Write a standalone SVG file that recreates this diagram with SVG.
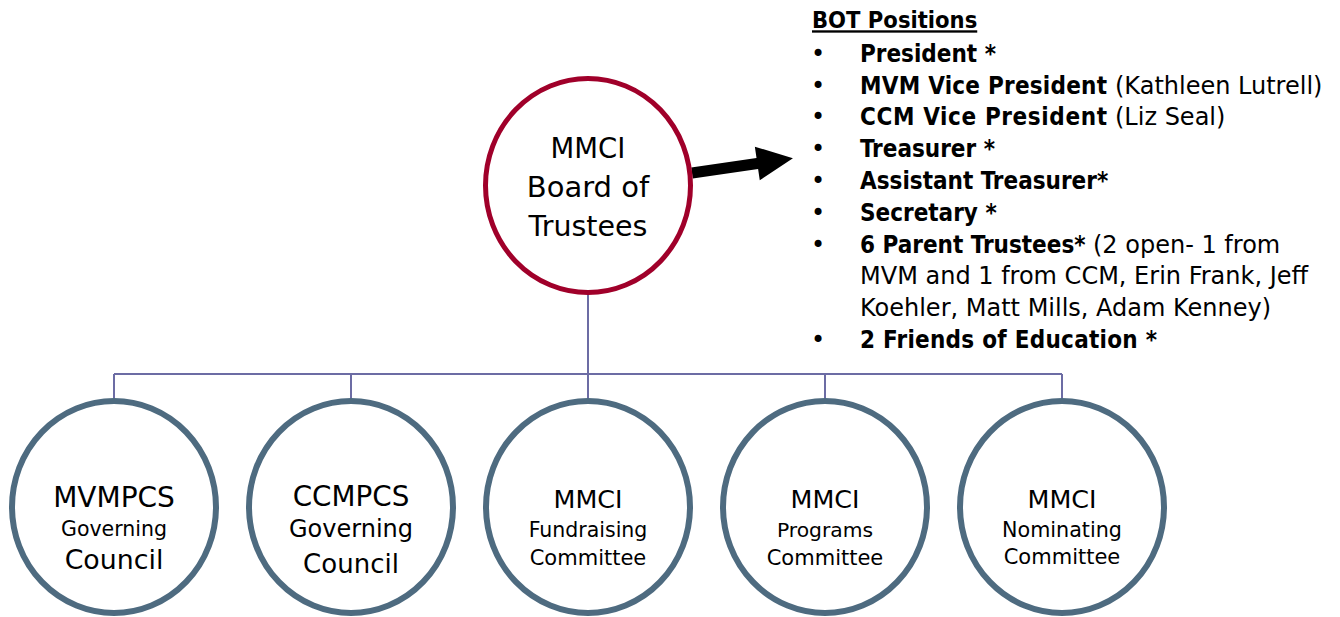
<svg xmlns="http://www.w3.org/2000/svg" width="1340" height="617" viewBox="0 0 1340 617">
<style>
.bg{fill:#ffffff}
.top{fill:#ffffff;stroke:#A0002A;stroke-width:5}
.sub{fill:#ffffff;stroke:#4E6B80;stroke-width:6}
.conn{fill:none;stroke:#6C6CA4;stroke-width:2}
.t{font-family:"DejaVu Sans","Liberation Sans",sans-serif;fill:#000000;text-anchor:middle}
.l{font-family:"DejaVu Sans","Liberation Sans",sans-serif;fill:#000000;font-size:24px}
.b{font-family:"DejaVu Sans Condensed","DejaVu Sans","Liberation Sans",sans-serif;font-weight:bold;font-stretch:condensed;font-size:24px;fill:#000000}
.bu{font-family:"DejaVu Sans",sans-serif;font-size:24px;text-anchor:middle}
</style>
<rect class="bg" x="0" y="0" width="1340" height="617"/>
<g id="connectors">
<path class="conn" d="M588 295 V374 M114 374 H1062 M114 374 V398 M351 374 V398 M588 374 V398 M825 374 V398 M1062 374 V398"/>
<polygon id="arrow" fill="#000000" transform="translate(692,173) rotate(-8.3)" points="0,-5.5 66,-5.5 66,-17 102,0 66,17 66,5.5 0,5.5"/>
</g>
<g id="board">
<ellipse class="top" cx="588" cy="185.5" rx="102.5" ry="107"/>
<text class="t" x="588" y="158" font-size="27.5">MMCI</text>
<text class="t" x="588" y="197" font-size="29">Board of</text>
<text class="t" x="588" y="236" font-size="28.5">Trustees</text>
</g>
<g id="mvmpcs">
<ellipse class="sub" cx="114" cy="507" rx="102" ry="106"/>
<text class="t" x="114" y="507" font-size="28">MVMPCS</text>
<text class="t" x="114" y="536" font-size="20.5">Governing</text>
<text class="t" x="114" y="569" font-size="26.8">Council</text>
</g>
<g id="ccmpcs">
<ellipse class="sub" cx="351" cy="507" rx="102" ry="106"/>
<text class="t" x="351" y="505.5" font-size="27.8">CCMPCS</text>
<text class="t" x="351" y="537" font-size="24">Governing</text>
<text class="t" x="351" y="573" font-size="26">Council</text>
</g>
<g id="fundraising">
<ellipse class="sub" cx="588" cy="507" rx="102" ry="106"/>
<text class="t" x="588" y="508" font-size="25.4">MMCI</text>
<text class="t" x="588" y="537" font-size="20.5">Fundraising</text>
<text class="t" x="588" y="565" font-size="21">Committee</text>
</g>
<g id="programs">
<ellipse class="sub" cx="825" cy="507" rx="102" ry="106"/>
<text class="t" x="825" y="508" font-size="25.4">MMCI</text>
<text class="t" x="825" y="537" font-size="20.3">Programs</text>
<text class="t" x="825" y="565" font-size="21">Committee</text>
</g>
<g id="nominating">
<ellipse class="sub" cx="1062" cy="507" rx="102" ry="106"/>
<text class="t" x="1062" y="508" font-size="25.4">MMCI</text>
<text class="t" x="1062" y="537" font-size="20.7">Nominating</text>
<text class="t" x="1062" y="564" font-size="21">Committee</text>
</g>
<g id="bot-positions">
<text class="b" x="812" y="28.3" font-size="23.5" style="font-size:23.5px" text-decoration="underline">BOT Positions</text>
<text class="bu" x="818" y="61.7">•</text>
<text class="bu" x="818" y="93.5">•</text>
<text class="bu" x="818" y="125.3">•</text>
<text class="bu" x="818" y="157.1">•</text>
<text class="bu" x="818" y="188.9">•</text>
<text class="bu" x="818" y="220.7">•</text>
<text class="bu" x="818" y="252.5">•</text>
<text class="bu" x="818" y="347.9">•</text>
<text class="b" x="860" y="61.7">President *</text>
<text class="b" x="860" y="93.5" textLength="247" lengthAdjust="spacing">MVM Vice President</text>
<text class="l" x="1115" y="93.5">(Kathleen Lutrell)</text>
<text class="b" x="860" y="125.3" textLength="247" lengthAdjust="spacing">CCM Vice President</text>
<text class="l" x="1115" y="125.3">(Liz Seal)</text>
<text class="b" x="860" y="157.1">Treasurer *</text>
<text class="b" x="860" y="188.9">Assistant Treasurer*</text>
<text class="b" x="860" y="220.7">Secretary *</text>
<text class="b" x="860" y="252.5">6 Parent Trustees*</text>
<text class="l" x="1093" y="252.5">(2 open- 1 from</text>
<text class="l" x="860" y="284.3">MVM and 1 from CCM, Erin Frank, Jeff</text>
<text class="l" x="860" y="316.1">Koehler, Matt Mills, Adam Kenney)</text>
<text class="b" x="860" y="347.9" textLength="297" lengthAdjust="spacing">2 Friends of Education *</text>
</g>
</svg>
